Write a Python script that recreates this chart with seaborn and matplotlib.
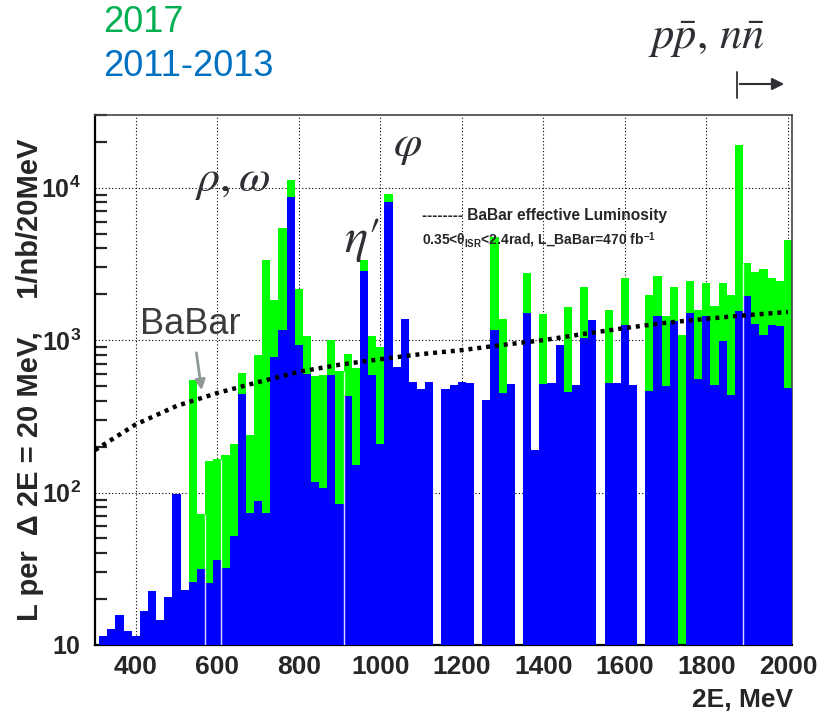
import numpy as np
import pandas as pd
import matplotlib
matplotlib.use("Agg")
import matplotlib.pyplot as plt
import seaborn as sns

# ---- data: luminosity per 20 MeV bin, 1/nb (bins 310-330 ... 1990-2010 MeV) ----
bin_lo = 310
bin_w = 20
lumi_2011_2013 = [
    11.5, 12.7, 15.7, 12.4, 11.4, 16.6, 22.5, 14.5, 20.7, 98,
    23, 26, 31.5, 25.5, 36, 32, 52, 446, 73, 88,
    73, 777, 1164, 8700, 925, 600, 118, 107, 590, 84,
    433, 151, 2850, 593, 209, 8100, 665, 1370, 530, 478,
    530, 0, 478, 506, 534, 525, 0, 402, 1170, 449,
    518, 0, 1500, 190, 518, 525, 925, 460, 506, 1033,
    1360, 0, 520, 520, 1250, 505, 0, 464, 1445, 499,
    1330, 0, 1515, 557, 1450, 508, 985, 438, 1545, 1945,
    1270, 1080, 1260, 1230, 488,
]
lumi_total = [
    11.5, 12.7, 15.7, 12.4, 11.4, 16.6, 22.5, 14.5, 20.7, 98,
    23, 545, 72, 160, 167, 176, 207, 611, 240, 795,
    3380, 1830, 5410, 11300, 2160, 1070, 585, 590, 1000, 625,
    814, 659, 3380, 1072, 895, 9100, 665, 1370, 530, 478,
    530, 0, 478, 506, 534, 525, 0, 402, 4750, 1385,
    518, 0, 2750, 190, 1480, 525, 925, 1640, 506, 2230,
    1360, 0, 1580, 520, 2570, 505, 0, 1990, 2630, 1450,
    2220, 1087, 2450, 1580, 2375, 1680, 2375, 1990, 19200, 3190,
    2820, 2930, 2570, 2460, 4570,
]
# BaBar effective luminosity, 1/nb per 20 MeV
babar_E = [300, 400, 500, 600, 700, 800, 900, 1000, 1100, 1200,
           1300, 1400, 1500, 1600, 1700, 1800, 1900, 2000]
babar_L = [190, 280, 370, 450, 530, 620, 690, 750, 810, 860,
           930, 1000, 1100, 1200, 1300, 1380, 1460, 1530]
# bin edges where the filled area shows a thin light seam
seam_edges = [570, 610, 910, 1890]

x_ticks = [400, 600, 800, 1000, 1200, 1400, 1600, 1800, 2000]
y_ticks = [10, 100, 1000, 10000]
y_tick_labels = [r"$\mathsf{10}$", r"$\mathsf{10^{2}}$", r"$\mathsf{10^{3}}$",
                 r"$\mathsf{10^{4}}$"]

n_bins = len(lumi_total)
centers = bin_lo + bin_w * np.arange(n_bins) + bin_w / 2
df = pd.DataFrame({"E": centers, "old": lumi_2011_2013, "total": lumi_total})
bin_range = (bin_lo, bin_lo + bin_w * n_bins)

sns.set_theme(style="white")
plt.rcParams["font.family"] = ["Liberation Sans", "DejaVu Sans"]
plt.rcParams["mathtext.fontset"] = "custom"
plt.rcParams["mathtext.rm"] = "STIXGeneral"
plt.rcParams["mathtext.it"] = "STIXGeneral:italic"
plt.rcParams["mathtext.bf"] = "STIXGeneral:bold"
plt.rcParams["mathtext.sf"] = "Liberation Sans:bold"

W, H = 829, 717
fig = plt.figure(figsize=(W / 100, H / 100), dpi=100)
ax = fig.add_axes([95 / W, 1 - 645 / H, (792 - 95) / W, (645 - 115) / H])

GREEN = "#00ff00"
BLUE = "#0000ff"

sns.histplot(data=df, x="E", weights="total", binwidth=bin_w, binrange=bin_range,
             ax=ax, color=GREEN, alpha=1, linewidth=0, element="bars", zorder=2)
sns.histplot(data=df, x="E", weights="old", binwidth=bin_w, binrange=bin_range,
             ax=ax, color=BLUE, alpha=1, linewidth=0, element="bars", zorder=3)
ax.set_yscale("log")

# light seams between neighbouring filled bins
for e in seam_edges:
    k = (e - bin_lo) // bin_w
    top = min(lumi_total[k - 1], lumi_total[k])
    ax.vlines(e, 10, top, color="white", linewidth=1.0, alpha=0.85, zorder=4)

sns.lineplot(x=babar_E, y=babar_L, ax=ax, color="black", linewidth=3.2,
             linestyle=(0, (0.9, 1.1)), zorder=5)

ax.set_xlim(300, 2010)
ax.set_ylim(10, 30000)
ax.set_xticks(x_ticks)
ax.set_xticklabels([str(t) for t in x_ticks])
ax.set_yticks(y_ticks)
ax.set_yticklabels(y_tick_labels)

ax.set_axisbelow(True)
ax.grid(True, which="major", color="black", linestyle=(0, (1, 2)), linewidth=0.8)
ax.tick_params(axis="x", length=0, labelsize=19, pad=7)
ax.tick_params(axis="y", which="major", direction="in", length=16, width=1.6,
               labelsize=18, pad=10)
ax.tick_params(axis="y", which="minor", direction="in", length=8.5, width=1.6,
               left=True)
for lab in ax.get_xticklabels() + ax.get_yticklabels():
    lab.set_fontweight("bold")

for side in ["left", "bottom"]:
    ax.spines[side].set_color("black")
    ax.spines[side].set_linewidth(1.6)
for side in ["top", "right"]:
    ax.spines[side].set_color("#444444")
    ax.spines[side].set_linewidth(1.2)

ax.set_xlabel("")
ax.set_ylabel("")
fig.text(793 / W, 1 - 700 / H, "2E, MeV", ha="right", va="center",
         fontsize=19, fontweight="bold")
fig.text(30 / W, 1 - 380 / H, "L per  \u0394 2E = 20 MeV,    1/nb/20MeV",
         rotation=90, ha="center", va="center", fontsize=21, fontweight="bold")

# period labels
fig.text(103 / W, 1 - 23 / H, "2017", color="#00b050", fontsize=26,
         ha="left", va="center")
fig.text(103 / W, 1 - 67 / H, "2011-2013", color="#0070c0", fontsize=26,
         ha="left", va="center")

# resonance labels
DARK = "#2f2f35"
fig.text(233 / W, 1 - 180 / H, r"$\rho,\omega$", fontsize=33, color=DARK,
         ha="center", va="center")
fig.text(408 / W, 1 - 145 / H, r"$\varphi$", fontsize=33, color=DARK,
         ha="center", va="center")
fig.text(362 / W, 1 - 240 / H, r"$\eta\prime$", fontsize=35, color=DARK,
         ha="center", va="center")
fig.text(706 / W, 1 - 40 / H, r"$p\bar{p},\,n\bar{n}$", fontsize=32,
         color=DARK, ha="center", va="center")

# threshold arrow
fig.add_artist(plt.Line2D([737 / W, 737 / W], [1 - 72 / H, 1 - 98 / H],
                          color=DARK, lw=1.3))
fig.add_artist(matplotlib.patches.FancyArrowPatch(
    (737 / W, 1 - 84 / H), (787 / W, 1 - 84 / H), transform=fig.transFigure,
    arrowstyle="-|>", mutation_scale=18, color=DARK, lw=1.5))

# BaBar pointer
fig.text(190 / W, 1 - 324 / H, "BaBar", fontsize=26, color="#3c3c3c",
         ha="center", va="center")
fig.add_artist(matplotlib.patches.FancyArrowPatch(
    (196 / W, 1 - 350 / H), (202 / W, 1 - 393 / H), transform=fig.transFigure,
    arrowstyle="-|>", mutation_scale=15, color="#8f9a95", lw=2))

# curve legend
fig.text(422 / W, 1 - 215 / H, "-------- BaBar effective Luminosity",
         fontsize=11.2, fontweight="bold", ha="left", va="center")
fig.text(422 / W, 1 - 240 / H,
         r"0.35<$\mathsf{\theta_{ISR}}$<2.4rad, L_BaBar=470 fb$^{\mathsf{-1}}$",
         fontsize=10, fontweight="bold", ha="left", va="center")

fig.savefig("out.png", dpi=100)
